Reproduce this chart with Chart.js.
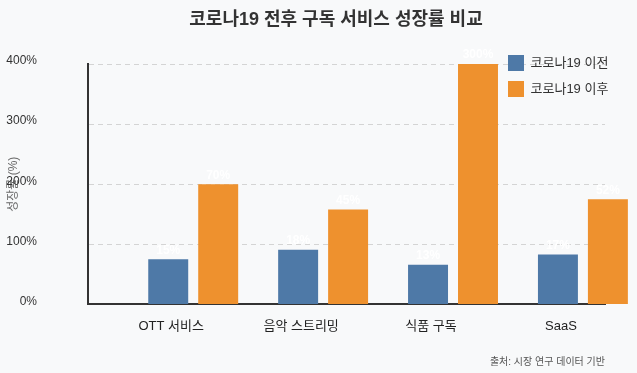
<!DOCTYPE html>
<html lang="ko">
<head>
<meta charset="utf-8">
<title>코로나19 전후 구독 서비스 성장률 비교</title>
<script src="https://cdn.jsdelivr.net/npm/chart.js@4.4.1/dist/chart.umd.min.js"></script>
<style>
    html, body { margin: 0; padding: 0; background: #f8f9fa; }
    #wrap { width: 637px; height: 373px; position: relative; }
</style>
</head>
<body>
<div id="wrap"><canvas id="chart"></canvas></div>
<script>
const categories = ['OTT 서비스', '음악 스트리밍', '식품 구독', 'SaaS'];
const before_values = [75, 91, 66, 83];
const after_values = [200, 158, 400, 175];
const before_labels = ['15%', '18%', '13%', '17%'];
const after_labels = ['70%', '45%', '300%', '52%'];
const y_ticks = [0, 100, 200, 300, 400];

Chart.defaults.font.family = "'Liberation Sans', 'Noto Sans CJK KR', sans-serif";
Chart.defaults.color = '#333';

// white value text above each bar
const barText = {
    id: 'barText',
    afterDatasetsDraw(chart) {
        const ctx = chart.ctx;
        const texts = [before_labels, after_labels];
        ctx.save();
        ctx.font = "bold 12px 'Liberation Sans', 'Noto Sans CJK KR', sans-serif";
        ctx.fillStyle = '#ffffff';
        ctx.textAlign = 'center';
        ctx.textBaseline = 'bottom';
        chart.data.datasets.forEach((ds, i) => {
            chart.getDatasetMeta(i).data.forEach((bar, j) => {
                ctx.fillText(texts[i][j], bar.x, bar.y - 3);
            });
        });
        ctx.restore();
    }
};

// legend inside the plot (top right), title centred over the plot side
const placeBoxes = {
    id: 'placeBoxes',
    afterLayout(chart) {
        const area = chart.chartArea;
        const lg = chart.legend;
        lg.left = area.right - 107;
        lg.top = area.top - 19;
        lg.right = lg.left + lg.width;
        lg.bottom = lg.top + lg.height;
        chart.titleBlock.left = area.left - 21;
    }
};

new Chart(document.getElementById('chart'), {
    type: 'bar',
    data: {
        datasets: [
            {
                label: '코로나19 이전',
                data: before_values.map((v, i) => ({x: i, y: v})),
                backgroundColor: '#4e79a7',
                borderWidth: 0,
                clip: false,
            },
            {
                label: '코로나19 이후',
                data: after_values.map((v, i) => ({x: i, y: v})),
                backgroundColor: '#ee912e',
                borderWidth: 0,
                clip: false,
            },
        ],
    },
    options: {
        responsive: true,
        maintainAspectRatio: false,
        animation: false,
        categoryPercentage: 100 / 130,
        barPercentage: 0.8,
        layout: { padding: { left: 0, right: 32 } },
        scales: {
            x: {
                type: 'linear',
                offset: false,
                min: -0.81,
                max: 3.17,
                afterBuildTicks: (scale) => {
                    scale.ticks = categories.map((c, i) => ({value: i}));
                },
                ticks: {
                    callback: (v) => categories[v],
                    font: { size: 13 },
                    color: '#222',
                    padding: 14,
                    labelOffset: -22,
                    maxRotation: 0,
                    autoSkip: false,
                },
                grid: { display: false, drawTicks: false },
                border: { display: true, color: '#333', width: 2 },
            },
            y: {
                min: 0,
                max: 400,
                afterBuildTicks: (scale) => {
                    scale.ticks = y_ticks.map(v => ({value: v}));
                },
                afterFit: (scale) => { scale.width = 88; },
                ticks: {
                    callback: (v) => v + '%',
                    font: { size: 12 },
                    color: '#333',
                    padding: 51,
                    labelOffset: -3,
                    autoSkip: false,
                },
                grid: { color: '#d4d4d4', lineWidth: 1, drawTicks: false },
                border: { display: true, color: '#333', width: 2, dash: [5, 4] },
                title: {
                    display: true,
                    text: '성장률 (%)',
                    font: { size: 12 },
                    color: '#666',
                    padding: { top: 6, bottom: 0 },
                },
            },
        },
        plugins: {
            title: {
                display: true,
                text: '코로나19 전후 구독 서비스 성장률 비교',
                font: { size: 18, weight: 'bold' },
                color: '#333',
                padding: { top: 9, bottom: 33.4 },
            },
            subtitle: {
                display: true,
                position: 'bottom',
                align: 'end',
                text: '출처: 시장 연구 데이터 기반',
                font: { size: 10 },
                color: '#555',
                padding: { top: 8, bottom: 5 },
            },
            legend: {
                position: 'chartArea',
                align: 'start',
                labels: {
                    boxWidth: 16,
                    boxHeight: 16,
                    padding: 10,
                    font: { size: 13 },
                    color: '#333',
                },
            },
            tooltip: { enabled: false },
        },
    },
    plugins: [barText, placeBoxes],
});
</script>
</body>
</html>
